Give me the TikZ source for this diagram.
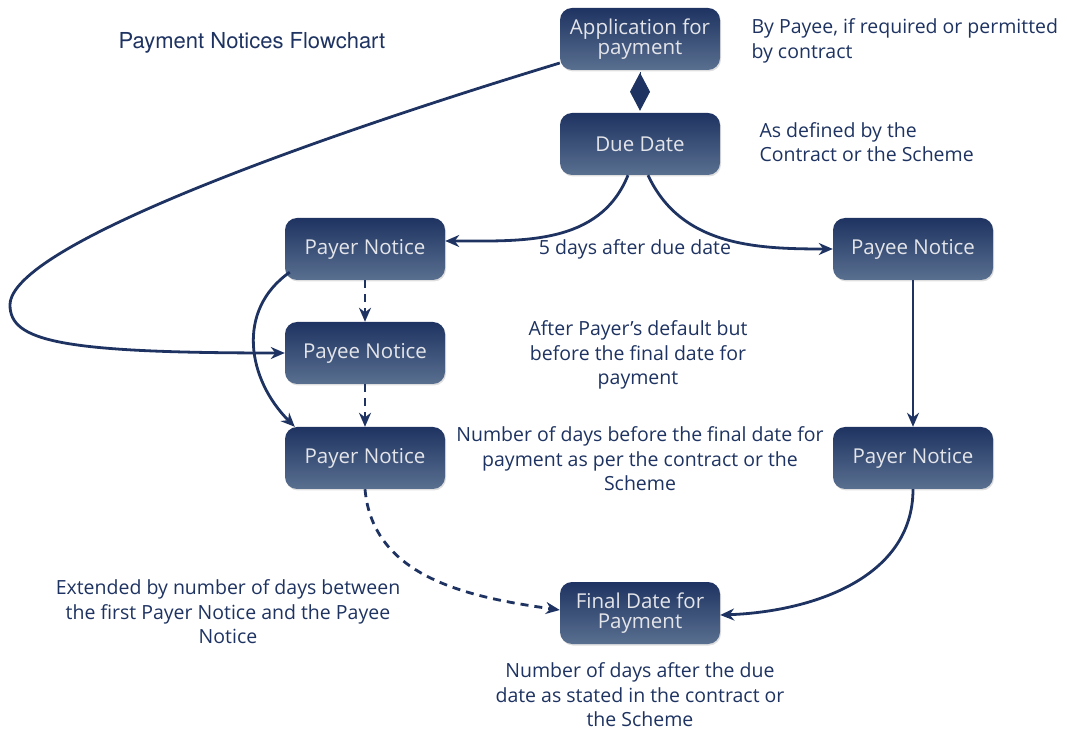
\documentclass[tikz,border=0pt]{standalone}
\usepackage{fontspec}
\setmainfont{Open Sans}
\newfontfamily\headfont{TeX Gyre Heros}
\usetikzlibrary{arrows.meta,shadows}

\definecolor{navy}{HTML}{1E3361}
\definecolor{navylight}{HTML}{5A7090}
\definecolor{boxtext}{HTML}{E4E5EA}

\begin{document}
\begin{tikzpicture}[
    x=1pt, y=1pt,
    >={Stealth[length=14pt,width=12pt]},
    stage/.style = {rectangle, rounded corners=12pt, minimum width=160pt,
                    minimum height=62pt, inner sep=2pt, align=center,
                    top color=navy, bottom color=navylight, text=boxtext,
                    font=\fontsize{20.5}{20.5}\selectfont,
                    drop shadow={opacity=0.25, shadow xshift=1pt, shadow yshift=-1.5pt}},
    note/.style  = {text=navy, align=center, font=\fontsize{19.5}{24.5}\selectfont},
    flow/.style  = {draw=navy, line width=2.8pt, ->},
    dflow/.style = {flow, dash pattern=on 8pt off 6pt},
    diam/.style  = {draw=navy, fill=navy, line width=1pt,
                    -{Diamond[length=38pt,width=20pt]}},
]
\useasboundingbox (0,0) rectangle (1067,731);

% ============ title ============
\node[text=navy, font=\headfont\fontsize{22}{24}\selectfont] (ttl) at (252,688)
  {Payment Notices Flowchart};

% ============ stages ============
\node[stage] (app)  at (640,692) {Application for\\ payment};
\node[stage] (due)  at (640,587) {Due Date};
\node[stage] (pyr1) at (365,482) {Payer Notice};
\node[stage] (pye1) at (365,378) {Payee Notice};
\node[stage] (pyr2) at (365,273) {Payer Notice};
\node[stage] (pye2) at (913,482) {Payee Notice};
\node[stage] (pyr3) at (913,273) {Payer Notice};
\node[stage] (fin)  at (640,118) {Final Date for\\ Payment};

% ============ notes ============
\node[note, anchor=west, align=left] (nApp) at (748,690)
  {By Payee, if required or permitted\\ by contract};
\node[note, anchor=west, align=left] (nDue) at (756,589)
  {As defined by the\\ Contract or the Scheme};
\node[note] (nFive) at (635,482) {5 days after due date};
\node[note] (nDef) at (638,376)
  {After Payer's default but\\ before the final date for\\ payment};
\node[note] (nBef) at (640,272)
  {Number of days before the final date for\\ payment as per the contract or the\\ Scheme};
\node[note] (nExt) at (228,119)
  {Extended by number of days between\\ the first Payer Notice and the Payee\\ Notice};
\node[note] (nAft) at (640,36)
  {Number of days after the due\\ date as stated in the contract or\\ the Scheme};

% ============ connectors ============
\draw[diam, shorten <=2pt, shorten >=2pt] (app) -- (due);
% due date splits to both sides
\draw[flow] ([xshift=-12pt]due.south) to[out=-112, in=0] ([yshift=8pt]pyr1.east);
\draw[flow] ([xshift=8pt]due.south) to[out=-65, in=180] (pye2.west);
% application goes round to the payee notice
\draw[flow] ([yshift=-24pt]app.west) .. controls (310,592) and (10,485) .. (10,426)
  .. controls (10,390) and (60,378) .. (pye1.west);
% left column
\draw[dflow] (pyr1) -- (pye1);
\draw[dflow] (pye1) -- (pyr2);
\draw[flow] ([xshift=5pt,yshift=8pt]pyr1.south west) to[out=215, in=135, looseness=1.1]
  ([xshift=10pt]pyr2.north west);
\draw[dflow] (pyr2.south) to[out=-85, in=172] ([yshift=3pt]fin.west);
% right column
\draw[flow] (pye2) -- (pyr3);
\draw[flow] (pyr3.south) to[out=-90, in=2] ([yshift=-2pt]fin.east);

\end{tikzpicture}
\end{document}
